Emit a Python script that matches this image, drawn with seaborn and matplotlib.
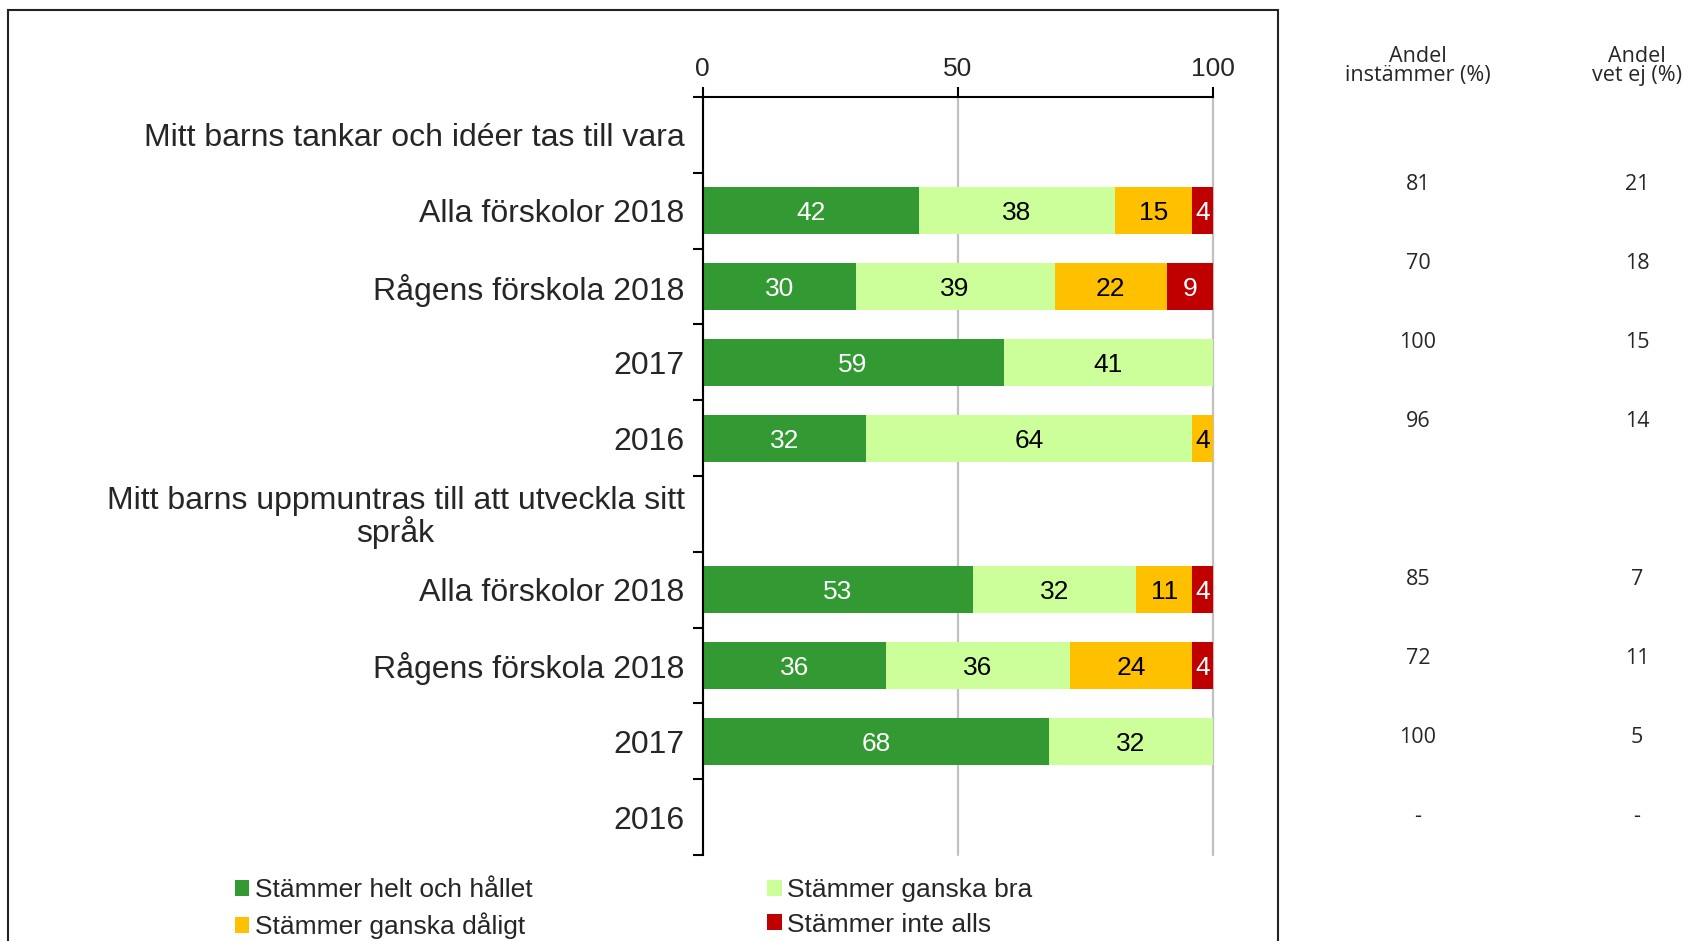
import numpy as np
import pandas as pd
import matplotlib
matplotlib.use("Agg")
import matplotlib.pyplot as plt
from matplotlib.patches import Patch, Rectangle
import seaborn as sns

# Survey rows (top to bottom); header rows carry no bars
row_labels = [
    "Mitt barns tankar och idéer tas till vara",
    "Alla förskolor 2018",
    "Rågens förskola 2018",
    "2017",
    "2016",
    "Mitt barns uppmuntras till att utveckla sitt\nspråk",
    "Alla förskolor 2018",
    "Rågens förskola 2018",
    "2017",
    "2016",
]
helt = [0, 42.5, 30, 59, 32, 0, 53, 36, 68, 0]
ganska_bra = [0, 38.3, 39, 41, 64, 0, 32, 36, 32, 0]
ganska_daligt = [0, 15.2, 22, 0, 4, 0, 11, 24, 0, 0]
inte_alls = [0, 4.0, 9, 0, 0, 0, 4, 4, 0, 0]

andel_instammer = ["", "81", "70", "100", "96", "", "85", "72", "100", "-"]
andel_vet_ej = ["", "21", "18", "15", "14", "", "7", "11", "5", "-"]

series_names = ["Stämmer helt och hållet", "Stämmer ganska bra",
                "Stämmer ganska dåligt", "Stämmer inte alls"]
series_colors = ["#339933", "#CCFF99", "#FFC000", "#C00000"]
label_colors = ["white", "black", "black", "white"]

sns.set_style("white")
plt.rcParams["font.family"] = ["Liberation Sans", "DejaVu Sans"]

row_ids = [f"r{i}" for i in range(len(row_labels))]
df = pd.DataFrame({"row": row_ids, "helt": helt, "bra": ganska_bra,
                   "daligt": ganska_daligt, "inte": inte_alls})
cols = ["helt", "bra", "daligt", "inte"]
cum = df[cols].cumsum(axis=1)

fig = plt.figure(figsize=(16.9, 9.41), dpi=100)
ax = fig.add_axes([0.4158, 0.0914, 0.3017, 0.8055])

# stacked bars drawn as overlapping cumulative bars, widest first
for col, color in reversed(list(zip(cols, series_colors))):
    sns.barplot(x=cum[col], y=df["row"], order=row_ids, orient="h",
                color=color, saturation=1, width=0.62, errorbar=None,
                linewidth=0, ax=ax)

# segment value labels
for i in range(len(row_ids)):
    start = 0
    for col, tc in zip(cols, label_colors):
        v = df.loc[i, col]
        if v > 0:
            ax.text(start + v / 2, i, f"{v:.0f}", ha="center", va="center_baseline",
                    color=tc, fontsize=19)
        start += v

ax.set(xlabel="", ylabel="")
ax.set_xlim(0, 100)
ax.set_ylim(len(row_ids) - 0.5, -0.5)

ax.xaxis.tick_top()
ax.set_xticks([0, 50, 100])
ax.tick_params(axis="x", top=True, bottom=False, labeltop=True, labelbottom=False,
               length=7.5, width=1.5, color="black", pad=4, labelsize=19)

ax.set_yticks(range(len(row_labels)))
ax.set_yticklabels(row_labels)
for lab in ax.get_yticklabels():
    lab.set_multialignment("center")
    lab.set_linespacing(1.0)
ax.set_yticks(np.arange(-0.5, len(row_labels), 1), minor=True)
ax.tick_params(axis="y", which="major", left=False, length=0, pad=13, labelsize=23)
ax.tick_params(axis="y", which="minor", left=True, length=7, width=1.5, color="black")

ax.xaxis.grid(True, color="#C0C0C0", lw=1.6)
for gl in ax.get_xgridlines():
    gl.set_clip_on(False)
ax.yaxis.grid(False)
ax.set_axisbelow(True)
for side in ["bottom", "right"]:
    ax.spines[side].set_visible(False)
for side in ["top", "left"]:
    ax.spines[side].set_color("black")
    ax.spines[side].set_linewidth(1.5)

handles = [Patch(facecolor=c, edgecolor="none") for c in series_colors]
order = [0, 2, 1, 3]
fig.legend([handles[k] for k in order], [series_names[k] for k in order],
           ncol=2, loc="upper left", bbox_to_anchor=(0.139, 0.067),
           frameon=False, fontsize=19, handlelength=0.55, handleheight=0.55,
           handletextpad=0.2, columnspacing=8.9, labelspacing=0.4,
           borderpad=0, borderaxespad=0)

# side table
table_font = ["Open Sans", "DejaVu Sans"]
col_x = [0.839, 0.9686]
for x, second in zip(col_x, ["instämmer (%)", "vet ej (%)"]):
    fig.text(x, 0.934, "Andel", ha="center", va="baseline", fontsize=15.5, family=table_font)
    fig.text(x, 0.914, second, ha="center", va="baseline", fontsize=15.5, family=table_font)
for i in range(1, len(row_labels)):
    y = 0.8035 - (i - 1) * 0.0839
    fig.text(col_x[0], y, andel_instammer[i], ha="center", va="center",
             fontsize=15.5, family=table_font)
    fig.text(col_x[1], y, andel_vet_ej[i], ha="center", va="center",
             fontsize=15.5, family=table_font)

fig.add_artist(Rectangle((0.0047, -0.05), 0.7515, 1.0394, transform=fig.transFigure,
                         fill=False, lw=1.5, ec="#222222"))

fig.savefig("out.png", dpi=100)
